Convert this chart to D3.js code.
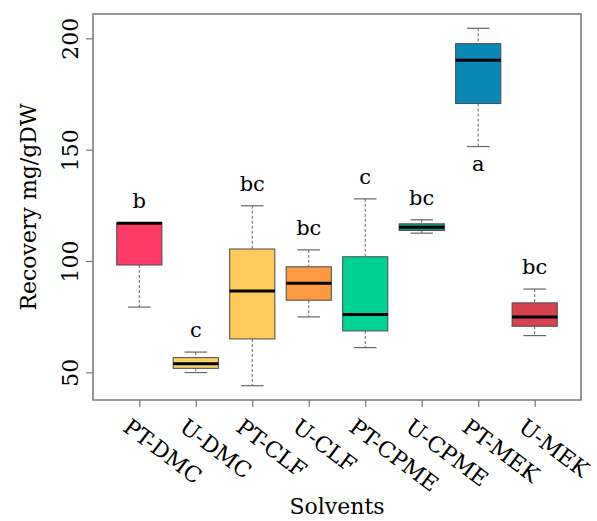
<!DOCTYPE html>
<html>
<head>
<meta charset="utf-8">
<script src="https://cdn.jsdelivr.net/npm/d3@7"></script>
<style>
  body { margin: 0; background: #fff; }
  svg text { font-family: "DejaVu Serif", serif; fill: #000; }
</style>
</head>
<body>
<svg id="chart" width="597" height="521"></svg>
<script>
const solvents = ['PT-DMC', 'U-DMC', 'PT-CLF', 'U-CLF', 'PT-CPME', 'U-CPME', 'PT-MEK', 'U-MEK'];
const whiskerLow = [79.3, 49.9, 44.0, 74.9, 61.1, 112.5, 151.4, 66.5];
const q1 = [98.2, 51.8, 65.0, 82.4, 68.6, 113.7, 170.7, 70.7];
const median = [117.0, 53.9, 86.5, 90.0, 76.0, 115.2, 190.2, 74.9];
const q3 = [117.1, 56.6, 105.4, 97.4, 101.9, 116.7, 197.6, 81.2];
const whiskerHigh = [117.1, 59.1, 124.8, 105.0, 127.9, 118.5, 204.5, 87.4];
const letters = ['b', 'c', 'bc', 'bc', 'c', 'bc', 'a', 'bc'];
const letterBelow = [false, false, false, false, false, false, true, false];
const colours = ['#fe3a68', '#f6d46c', '#fdca5c', '#fa9a42', '#00d296', '#0f9a7a', '#0a87b2', '#d7424f'];
const yTicks = [50, 100, 150, 200];

const margin = { top: 14, right: 16, bottom: 121, left: 93 };
const svgW = 597;
const svgH = 521;
const width = svgW - margin.left - margin.right;
const height = svgH - margin.top - margin.bottom;

const data = solvents.map((s, i) => ({
  solvent: s,
  lo: whiskerLow[i],
  q1: q1[i],
  med: median[i],
  q3: q3[i],
  hi: whiskerHigh[i],
  letter: letters[i],
  below: letterBelow[i],
  colour: colours[i],
  pos: i + 1,
}));

// R style: xlim 0.5..n+0.5, ylim data range, both padded 4%
const x = d3.scaleLinear()
  .domain([0.5 - 0.32, solvents.length + 0.5 + 0.32])
  .range([0, width]);

const yMin = d3.min(whiskerLow);
const yMax = d3.max(whiskerHigh);
const pad = (yMax - yMin) * 0.04;
const y = d3.scaleLinear()
  .domain([yMin - pad, yMax + pad])
  .range([height, 0]);

const boxW = x(1.8) - x(1);
const capW = boxW / 2;

const svg = d3.select('#chart')
  .append('g')
  .attr('transform', `translate(${margin.left}, ${margin.top})`);

const box = svg.selectAll('.box')
  .data(data)
  .enter()
  .append('g')
  .attr('class', 'box');

// whiskers
box.append('line')
  .attr('x1', d => x(d.pos))
  .attr('x2', d => x(d.pos))
  .attr('y1', d => y(d.hi))
  .attr('y2', d => y(d.q3))
  .attr('stroke', '#666')
  .attr('stroke-dasharray', '3,2');

box.append('line')
  .attr('x1', d => x(d.pos))
  .attr('x2', d => x(d.pos))
  .attr('y1', d => y(d.q1))
  .attr('y2', d => y(d.lo))
  .attr('stroke', '#666')
  .attr('stroke-dasharray', '3,2');

box.selectAll('.cap')
  .data(d => [{ pos: d.pos, v: d.hi }, { pos: d.pos, v: d.lo }])
  .enter()
  .append('line')
  .attr('class', 'cap')
  .attr('x1', d => x(d.pos) - capW / 2)
  .attr('x2', d => x(d.pos) + capW / 2)
  .attr('y1', d => y(d.v))
  .attr('y2', d => y(d.v))
  .attr('stroke', '#666')
  .attr('stroke-width', 1.2);

box.append('rect')
  .attr('x', d => x(d.pos) - boxW / 2)
  .attr('width', boxW)
  .attr('y', d => y(d.q3))
  .attr('height', d => y(d.q1) - y(d.q3))
  .attr('fill', d => d.colour)
  .attr('stroke', '#4a4a4a')
  .attr('stroke-width', 1);

box.append('line')
  .attr('x1', d => x(d.pos) - boxW / 2)
  .attr('x2', d => x(d.pos) + boxW / 2)
  .attr('y1', d => y(d.med))
  .attr('y2', d => y(d.med))
  .attr('stroke', '#000')
  .attr('stroke-width', 3);

box.append('text')
  .attr('x', d => x(d.pos))
  .attr('y', d => (d.below ? y(d.lo) + 24 : y(d.hi) - 15))
  .attr('text-anchor', 'middle')
  .style('font-size', '21px')
  .text(d => d.letter);

// frame
svg.append('rect')
  .attr('width', width)
  .attr('height', height)
  .attr('fill', 'none')
  .attr('stroke', '#777')
  .attr('stroke-width', 1.5);

// y axis
const yAxis = svg.append('g')
  .attr('class', 'y axis')
  .call(d3.axisLeft(y).tickValues(yTicks).tickSize(7).tickFormat(d3.format('d')));
yAxis.select('.domain').remove();
yAxis.selectAll('.tick line').attr('stroke', '#777').attr('stroke-width', 1.2);
yAxis.selectAll('.tick text')
  .attr('x', null)
  .attr('dy', null)
  .attr('transform', 'translate(-15, 0) rotate(-90)')
  .attr('text-anchor', 'middle')
  .style('font-size', '22px')
  .style('fill', '#000');

// x axis
const xAxis = svg.append('g')
  .attr('class', 'x axis')
  .attr('transform', `translate(0, ${height})`)
  .call(d3.axisBottom(x).tickValues(d3.range(1, solvents.length + 1)).tickSize(7)
    .tickFormat(d => solvents[d - 1]));
xAxis.select('.domain').remove();
xAxis.selectAll('.tick line').attr('stroke', '#777').attr('stroke-width', 1.2);
xAxis.selectAll('.tick text')
  .attr('y', null)
  .attr('dy', null)
  .attr('transform', 'translate(-18, 30) rotate(37)')
  .attr('text-anchor', 'start')
  .style('font-size', '22px')
  .style('fill', '#000');

svg.append('text')
  .attr('x', width / 2)
  .attr('y', height + 114)
  .attr('text-anchor', 'middle')
  .style('font-size', '22px')
  .text('Solvents');

svg.append('text')
  .attr('transform', `translate(-57, ${height / 2}) rotate(-90)`)
  .attr('text-anchor', 'middle')
  .style('font-size', '22px')
  .text('Recovery mg/gDW');
</script>
</body>
</html>
